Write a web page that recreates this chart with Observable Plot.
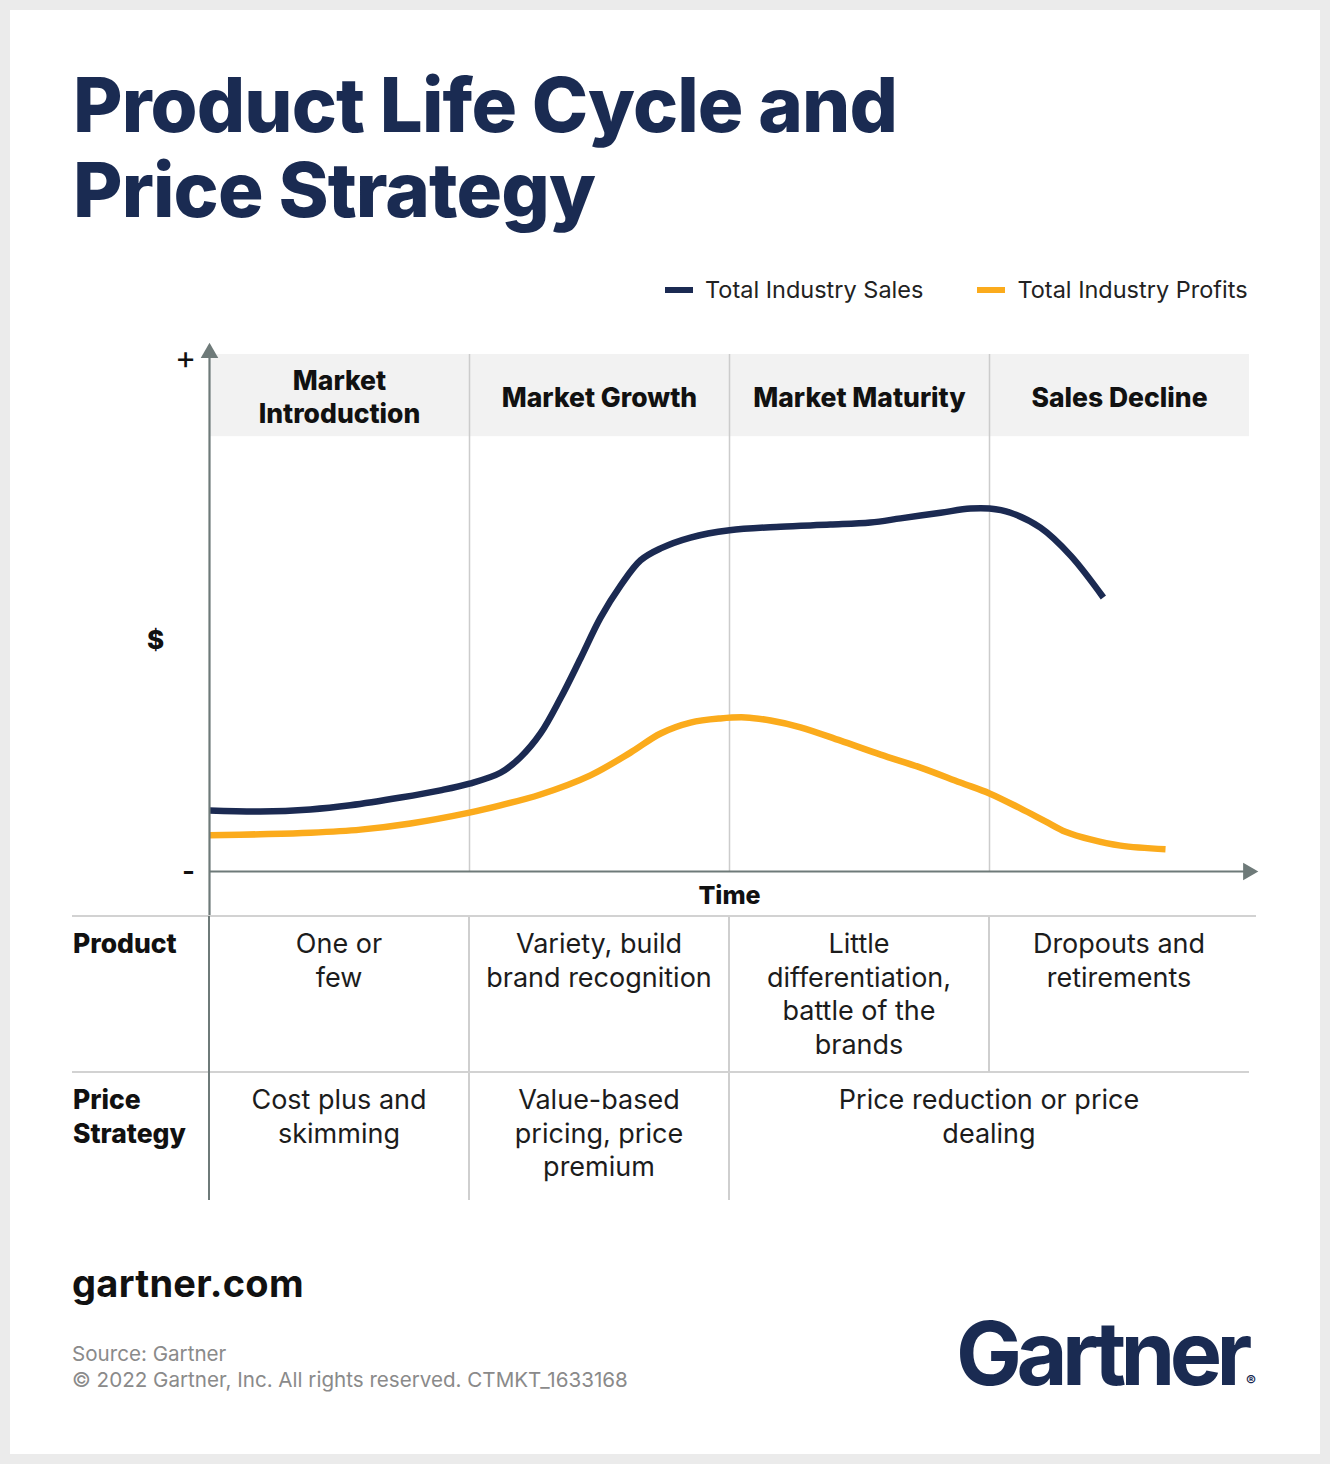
<!DOCTYPE html>
<html>
<head>
<meta charset="utf-8">
<script src="https://cdn.jsdelivr.net/npm/d3@7"></script>
<script src="https://cdn.jsdelivr.net/npm/@observablehq/plot@0.6"></script>
<style>
  html, body { margin: 0; padding: 0; }
  body { width: 1330px; height: 1464px; background: #ebebeb; position: relative; font-family: Inter, "Noto Sans", sans-serif; overflow: hidden; }
  .card { position: absolute; left: 10px; top: 10px; width: 1310px; height: 1444px; background: #fff; }
  .abs { position: absolute; }
  #title { left: 73px; top: 62px; font-size: 76px; line-height: 85px; font-weight: 800; color: #1a2b52; letter-spacing: -0.9px; margin: 0; }
  #legend { left: 665px; top: 275px; font-size: 23.5px; color: #222; display: flex; align-items: center; white-space: nowrap; }
  .sw { display: inline-block; width: 28px; height: 6px; margin-right: 12px; }
  .lg { display: flex; align-items: center; }
  #chart { left: 0; top: 340px; }
  .cell { position: absolute; box-sizing: border-box; text-align: center; font-size: 27px; line-height: 33.7px; color: #1c1c1c; padding-top: 11px; }
  .lab { position: absolute; font-size: 26.5px; line-height: 33.7px; font-weight: 800; color: #111; padding-top: 11px; }
  .hl { position: absolute; height: 2px; background: #d2d2d2; }
  .vl { position: absolute; width: 1.5px; background: #cfcfcf; }
  #site { left: 72px; top: 1260px; font-size: 38px; font-weight: 700; color: #111; letter-spacing: 0.3px; }
  #src { left: 72px; top: 1341px; font-size: 20.6px; line-height: 26px; color: #8a8a8a; font-weight: 400; }
  #logo { left: 956px; top: 1300px; font-size: 88px; font-weight: 700; color: #1a2b52; letter-spacing: -5.6px; }
  #reg { left: 1246px; top: 1371px; font-size: 15px; font-weight: 700; color: #1a2b52; }
</style>
</head>
<body>
<div class="card"></div>
<h1 id="title" class="abs"></h1>
<div id="legend" class="abs"></div>
<div id="chart" class="abs"></div>
<div id="table"></div>
<div id="site" class="abs">gartner.com</div>
<div id="src" class="abs"></div>
<div id="logo" class="abs">Gartner</div>
<div id="reg" class="abs">®</div>
<script>
// ---- data ----
const titleLines = ["Product Life Cycle and", "Price Strategy"];
const stages = ["Market\nIntroduction", "Market Growth", "Market Maturity", "Sales Decline"];
const seriesNames = ["Total Industry Sales", "Total Industry Profits"];
const seriesColors = ["#1b2a52", "#fbab1c"];

const salesTime  = [0, 0.196, 0.388, 0.542, 0.735, 0.888, 1.0, 1.119, 1.196, 1.273, 1.35, 1.427, 1.504, 1.581, 1.658, 1.735, 1.85, 2.0, 2.196, 2.388, 2.542, 2.658, 2.812, 2.927, 3.0, 3.081, 3.196, 3.312, 3.438];
const salesValue = [11.8, 11.6, 12.0, 12.8, 14.3, 15.7, 17.0, 19.1, 22.1, 26.7, 33.5, 41.2, 49.1, 55.3, 60.2, 62.5, 64.6, 66.0, 66.7, 67.1, 67.5, 68.3, 69.4, 70.2, 70.2, 69.4, 66.5, 61.1, 53.0];

const profitTime  = [0, 0.196, 0.388, 0.581, 0.773, 1.0, 1.119, 1.273, 1.465, 1.619, 1.735, 1.85, 1.965, 2.062, 2.158, 2.273, 2.427, 2.581, 2.735, 2.888, 3.0, 3.119, 3.215, 3.292, 3.388, 3.504, 3.677];
const profitValue = [7.0, 7.2, 7.5, 8.1, 9.3, 11.4, 12.8, 14.9, 18.6, 23.0, 26.7, 28.8, 29.6, 29.8, 29.2, 27.9, 25.3, 22.6, 20.1, 17.2, 15.1, 12.2, 9.7, 7.7, 6.2, 5.0, 4.3];

const rowLabels = ["Product", "Price\nStrategy"];
const productRow = ["One or\nfew", "Variety, build\nbrand recognition", "Little\ndifferentiation,\nbattle of the\nbrands", "Dropouts and\nretirements"];
const priceRow = [
  {text: "Cost plus and\nskimming", from: 0, span: 1},
  {text: "Value-based\npricing, price\npremium", from: 1, span: 1},
  {text: "Price reduction or price\ndealing", from: 2, span: 2}
];
const axisLabels = {x: "Time", y: "$", top: "+", bottom: "-"};
const sourceLines = ["Source: Gartner", "© 2022 Gartner, Inc. All rights reserved. CTMKT_1633168"];

// ---- header / legend / footer ----
document.getElementById("title").innerHTML = titleLines.join("<br>");
document.getElementById("src").innerHTML = sourceLines.join("<br>");
const legend = document.getElementById("legend");
seriesNames.forEach((n, i) => {
  const g = document.createElement("div");
  g.className = "lg";
  if (i > 0) g.style.marginLeft = "54px";
  g.innerHTML = `<span class="sw" style="background:${seriesColors[i]}"></span><span>${n}</span>`;
  legend.appendChild(g);
});

// ---- chart ----
const sales = salesTime.map((t, i) => ({t, v: salesValue[i]}));
const profits = profitTime.map((t, i) => ({t, v: profitValue[i]}));
const axisColor = "#6e7a79";

const chart = Plot.plot({
  width: 1330,
  height: 576,
  marginLeft: 209,
  marginRight: 81,
  marginTop: 14,
  marginBottom: 45,
  x: {domain: [0, 4], axis: null},
  y: {domain: [0, 100], axis: null},
  style: {fontFamily: "Inter, 'Noto Sans', sans-serif", overflow: "visible", background: "transparent"},
  marks: [
    Plot.rect(stages, {x1: (d, i) => i, x2: (d, i) => i + 1, y1: 84.1, y2: 100, fill: "#f2f2f2"}),
    Plot.ruleX([1, 2, 3], {y1: 0, y2: 100, stroke: "#cccccc", strokeWidth: 1.5}),
    Plot.text(stages, {x: (d, i) => i + 0.5, y: 92, text: d => d, fontSize: 26.5, fontWeight: 800, lineHeight: 1.27, fill: "#111"}),
    Plot.line(profits, {x: "t", y: "v", stroke: seriesColors[1], strokeWidth: 6.5, curve: "catmull-rom", strokeLinecap: "butt"}),
    Plot.line(sales, {x: "t", y: "v", stroke: seriesColors[0], strokeWidth: 6.5, curve: "catmull-rom", strokeLinecap: "butt"}),
    // axes
    Plot.ruleY([0], {x1: 0, x2: 3.99, stroke: axisColor, strokeWidth: 2.2}),
    Plot.ruleX([0], {y1: -8.75, y2: 100, stroke: axisColor, strokeWidth: 2.2}),
    Plot.dot([0], {x: 3.995, y: 0, symbol: "triangle", r: 6.5, fill: axisColor, rotate: 90}),
    Plot.dot([0], {x: 0, y: 100.3, symbol: "triangle", r: 6.5, fill: axisColor}),
    Plot.text([axisLabels.x], {frameAnchor: "bottom", lineAnchor: "middle", dy: 24, text: d => d, fontSize: 25, fontWeight: 800, fill: "#111"}),
    Plot.text([axisLabels.y], {frameAnchor: "left", textAnchor: "middle", lineAnchor: "middle", dx: -54, dy: 28, text: d => d, fontSize: 26, fontWeight: 800, fill: "#111"}),
    Plot.text([axisLabels.top], {frameAnchor: "top-left", textAnchor: "middle", lineAnchor: "middle", dx: -24, dy: 4, text: d => d, fontSize: 32, fontWeight: 400, fill: "#111"}),
    Plot.text([axisLabels.bottom], {frameAnchor: "bottom-left", textAnchor: "middle", lineAnchor: "middle", dx: -21, dy: 1, text: d => d, fontSize: 28, fontWeight: 600, fill: "#111"})
  ]
});
document.getElementById("chart").appendChild(chart);

// ---- table ----
const table = document.getElementById("table");
const colX = [209, 469, 729, 989, 1249];
const rowY = [916, 1072, 1200];
function add(cls, styles, html) {
  const e = document.createElement("div");
  e.className = cls;
  Object.assign(e.style, styles);
  if (html != null) e.innerHTML = html;
  table.appendChild(e);
  return e;
}
add("hl", {left: "72px", top: (rowY[0] - 1) + "px", width: (1256 - 72) + "px"});
add("hl", {left: "72px", top: (rowY[1] - 1) + "px", width: (1249 - 72) + "px"});
// axis continuation
add("vl", {left: "208px", top: rowY[0] + "px", height: (rowY[2] - rowY[0]) + "px", width: "2.2px", background: axisColor});
// product row verticals
[1, 2, 3].forEach(c => add("vl", {left: (colX[c] - 0.75) + "px", top: rowY[0] + 1 + "px", height: (rowY[1] - rowY[0] - 1) + "px"}));
// price row verticals
[1, 2].forEach(c => add("vl", {left: (colX[c] - 0.75) + "px", top: rowY[1] + 1 + "px", height: (rowY[2] - rowY[1] - 1) + "px"}));
// row labels
rowLabels.forEach((l, r) => add("lab", {left: "73px", top: rowY[r] + "px"}, l.replace(/\n/g, "<br>")));
productRow.forEach((t, c) => add("cell", {left: colX[c] + "px", top: rowY[0] + "px", width: (colX[c + 1] - colX[c]) + "px"}, t.replace(/\n/g, "<br>")));
priceRow.forEach(p => add("cell", {left: colX[p.from] + "px", top: rowY[1] + "px", width: (colX[p.from + p.span] - colX[p.from]) + "px"}, p.text.replace(/\n/g, "<br>")));
</script>
</body>
</html>
